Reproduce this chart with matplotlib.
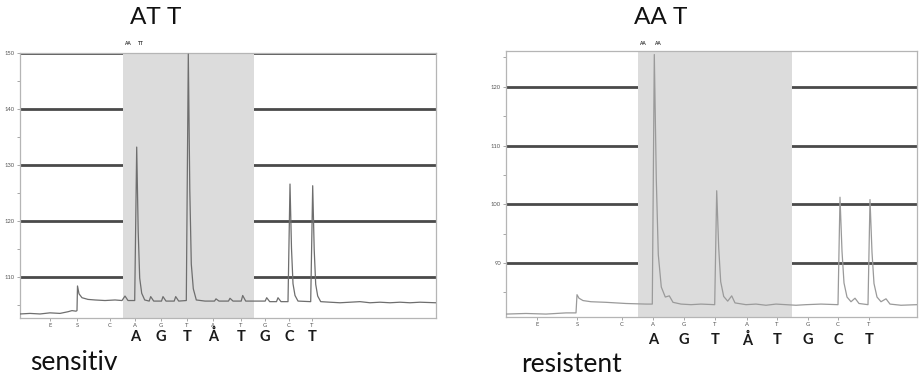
import matplotlib
matplotlib.use("Agg")
import matplotlib.pyplot as plt
from matplotlib.transforms import blended_transform_factory

# ---------------- data ----------------
disp_labels = ["E", "S", "C", "A", "G", "T", "A", "T", "G", "C", "T"]
seq_labels = ["A", "G", "T", "Å", "T", "G", "C", "T"]

# left panel (sensitiv)
left_tick_pos = [3.0, 5.7, 9.0, 11.5, 14.1, 16.7, 19.3, 22.1, 24.5, 26.9, 29.2]
left_seq_pos = [11.5, 14.1, 16.7, 19.3, 22.1, 24.5, 26.9, 29.2]
left_shade = [10.3, 23.4]
left_yticks = [110, 120, 130, 140, 150]
left_trace_x = [0.0, 1.0, 2.0, 3.0, 4.0, 4.8, 5.2, 5.6, 5.7, 5.75, 5.9, 6.2, 6.8, 7.5, 8.5, 9.5,
                10.2, 10.35, 10.5, 10.8, 11.47, 11.67, 11.82, 11.97, 12.17, 12.47, 12.92, 13.07,
                13.37, 14.15, 14.3, 14.6, 15.42, 15.57, 15.87, 16.63, 16.83, 16.98, 17.13, 17.33,
                17.63, 18.5, 19.45, 19.6, 19.9, 20.85, 21.0, 21.3, 22.12, 22.27, 22.57, 24.52,
                24.67, 24.97, 25.65, 25.8, 26.1, 26.8, 27.0, 27.15, 27.3, 27.5, 27.8, 29.07, 29.27,
                29.42, 29.57, 29.77, 30.07, 31.0, 32.0, 33.0, 34.0, 35.0, 36.0, 37.0, 38.0, 39.0,
                40.0, 41.6]
left_trace_y = [103.4, 103.5, 103.4, 103.6, 103.5, 103.8, 104.0, 103.9, 104.0, 108.4, 107.0, 106.3,
                106.0, 105.9, 105.8, 105.9, 105.8, 106.2, 106.6, 105.8, 105.8, 133.2, 118.1, 109.8,
                107.1, 105.9, 105.7, 106.5, 105.7, 105.7, 106.5, 105.7, 105.7, 106.5, 105.7, 105.8,
                149.8, 125.5, 112.3, 107.9, 105.9, 105.7, 105.7, 106.1, 105.7, 105.7, 106.2, 105.7,
                105.7, 106.7, 105.7, 105.7, 106.3, 105.6, 105.6, 106.3, 105.6, 105.6, 126.6, 115.1,
                108.8, 106.7, 105.7, 105.6, 126.3, 114.9, 108.7, 106.6, 105.6, 105.5, 105.4, 105.5,
                105.6, 105.4, 105.5, 105.4, 105.5, 105.4, 105.5, 105.4]
left_marks = ["AA", "TT"]
left_marks_pos = [10.7, 12.1]

# right panel (resistent)
right_tick_pos = [3.1, 7.1, 11.6, 14.7, 17.8, 20.9, 24.1, 27.1, 30.2, 33.2, 36.3]
right_seq_pos = [14.7, 17.8, 20.9, 24.1, 27.1, 30.2, 33.2, 36.3]
right_shade = [13.2, 28.6]
right_yticks = [90, 100, 110, 120]
right_trace_x = [0.0, 2.0, 4.0, 6.0, 7.0, 7.1, 7.3, 7.7, 8.5, 10.0, 12.0, 14.0, 14.63, 14.83, 15.03,
                 15.23, 15.53, 15.93, 16.33, 16.7, 17.5, 18.5, 19.5, 20.87, 21.07, 21.27, 21.47,
                 21.77, 22.17, 22.57, 22.9, 24.0, 25.0, 26.0, 27.0, 28.0, 29.0, 30.0, 31.5, 33.2,
                 33.4, 33.6, 33.8, 34.1, 34.5, 34.9, 35.3, 36.2, 36.4, 36.6, 36.8, 37.1, 37.5, 38.0,
                 38.4, 39.5, 41.1]
right_trace_y = [81.3, 81.4, 81.3, 81.5, 81.5, 84.6, 84.0, 83.6, 83.4, 83.3, 83.1, 83.0, 83.0, 125.5,
                 104.2, 91.4, 85.9, 84.2, 84.4, 83.3, 83.0, 82.9, 83.0, 82.9, 102.3, 92.6, 86.8, 84.3,
                 83.5, 84.4, 83.2, 82.9, 83.0, 82.8, 83.0, 82.9, 82.8, 82.9, 83.0, 82.9, 101.2, 92.0,
                 86.6, 84.2, 83.4, 84.0, 83.1, 82.9, 100.8, 91.8, 86.5, 84.2, 83.4, 83.9, 83.0, 82.8,
                 82.9]
right_marks = ["AA", "AA"]
right_marks_pos = [13.6, 15.1]

# ---------------- figure ----------------
plt.rcParams['font.family'] = ['Lato', 'DejaVu Sans']
fig = plt.figure(figsize=(9.19, 3.77), dpi=100)

W, H = 919.0, 377.0

def make_panel(rect, xlim, ylim, yticks, minor, ticks_pos, seq_pos, shade, tx, ty, marks,
               marks_pos, trace_color, seq_y, marks_y):
    ax = fig.add_axes(rect)
    ax.set_xlim(*xlim)
    ax.set_ylim(*ylim)
    for yv in yticks:
        ax.axhline(yv, color='#4a4a4a', lw=2.0, zorder=1)
    ax.axvspan(shade[0], shade[1], color='#dcdcdc', lw=0, zorder=2)
    ax.plot(tx, ty, color=trace_color, lw=0.9, zorder=3)
    for s in ax.spines.values():
        s.set_color('#b5b5b5')
        s.set_linewidth(0.9)
    ax.set_yticks(yticks)
    ax.set_yticklabels([str(v) for v in yticks])
    ax.set_yticks(minor, minor=True)
    ax.set_xticks(ticks_pos)
    ax.set_xticklabels(disp_labels)
    ax.tick_params(axis='both', which='both', length=2, width=0.6, color='#999999',
                   labelsize=4.2, labelcolor='#555555', pad=1.5)
    trans = blended_transform_factory(ax.transData, ax.transAxes)
    for xp, lab in zip(seq_pos, seq_labels):
        ax.text(xp, seq_y, lab, transform=trans, ha='center', va='center',
                fontsize=10.5, fontweight='bold', color='#1a1a1a', clip_on=False)
    for xp, lab in zip(marks_pos, marks):
        ax.text(xp, marks_y, lab, transform=trans, ha='center', va='center',
                fontsize=3.5, fontweight='bold', color='#333333', clip_on=False)
    return ax

# left panel
make_panel([20 / W, 1 - 318 / H, 416 / W, 265 / H], (0, 41.6), (102.68, 150.0),
           left_yticks, [105, 115, 125, 135, 145], left_tick_pos, left_seq_pos, left_shade,
           left_trace_x, left_trace_y, left_marks, left_marks_pos, '#6e6e6e',
           -0.07, 1.036)

# right panel
make_panel([506 / W, 1 - 317 / H, 411 / W, 266 / H], (0, 41.1), (80.8, 126.1),
           right_yticks, [85, 95, 105, 115, 125], right_tick_pos, right_seq_pos, right_shade,
           right_trace_x, right_trace_y, right_marks, right_marks_pos, '#9a9a9a',
           -0.088, 1.03)

fig.text(156 / W, 1 - 18 / H, "AT T", ha='center', va='center', fontsize=17.5, color='#111111')
fig.text(661 / W, 1 - 18 / H, "AA T", ha='center', va='center', fontsize=17.5, color='#111111')
fig.text(30 / W, 1 - 363 / H, "sensitiv", ha='left', va='center', fontsize=19, color='#111111')
fig.text(521 / W, 1 - 364 / H, "resistent", ha='left', va='center', fontsize=19, color='#111111')

fig.savefig("out.png", dpi=100)
